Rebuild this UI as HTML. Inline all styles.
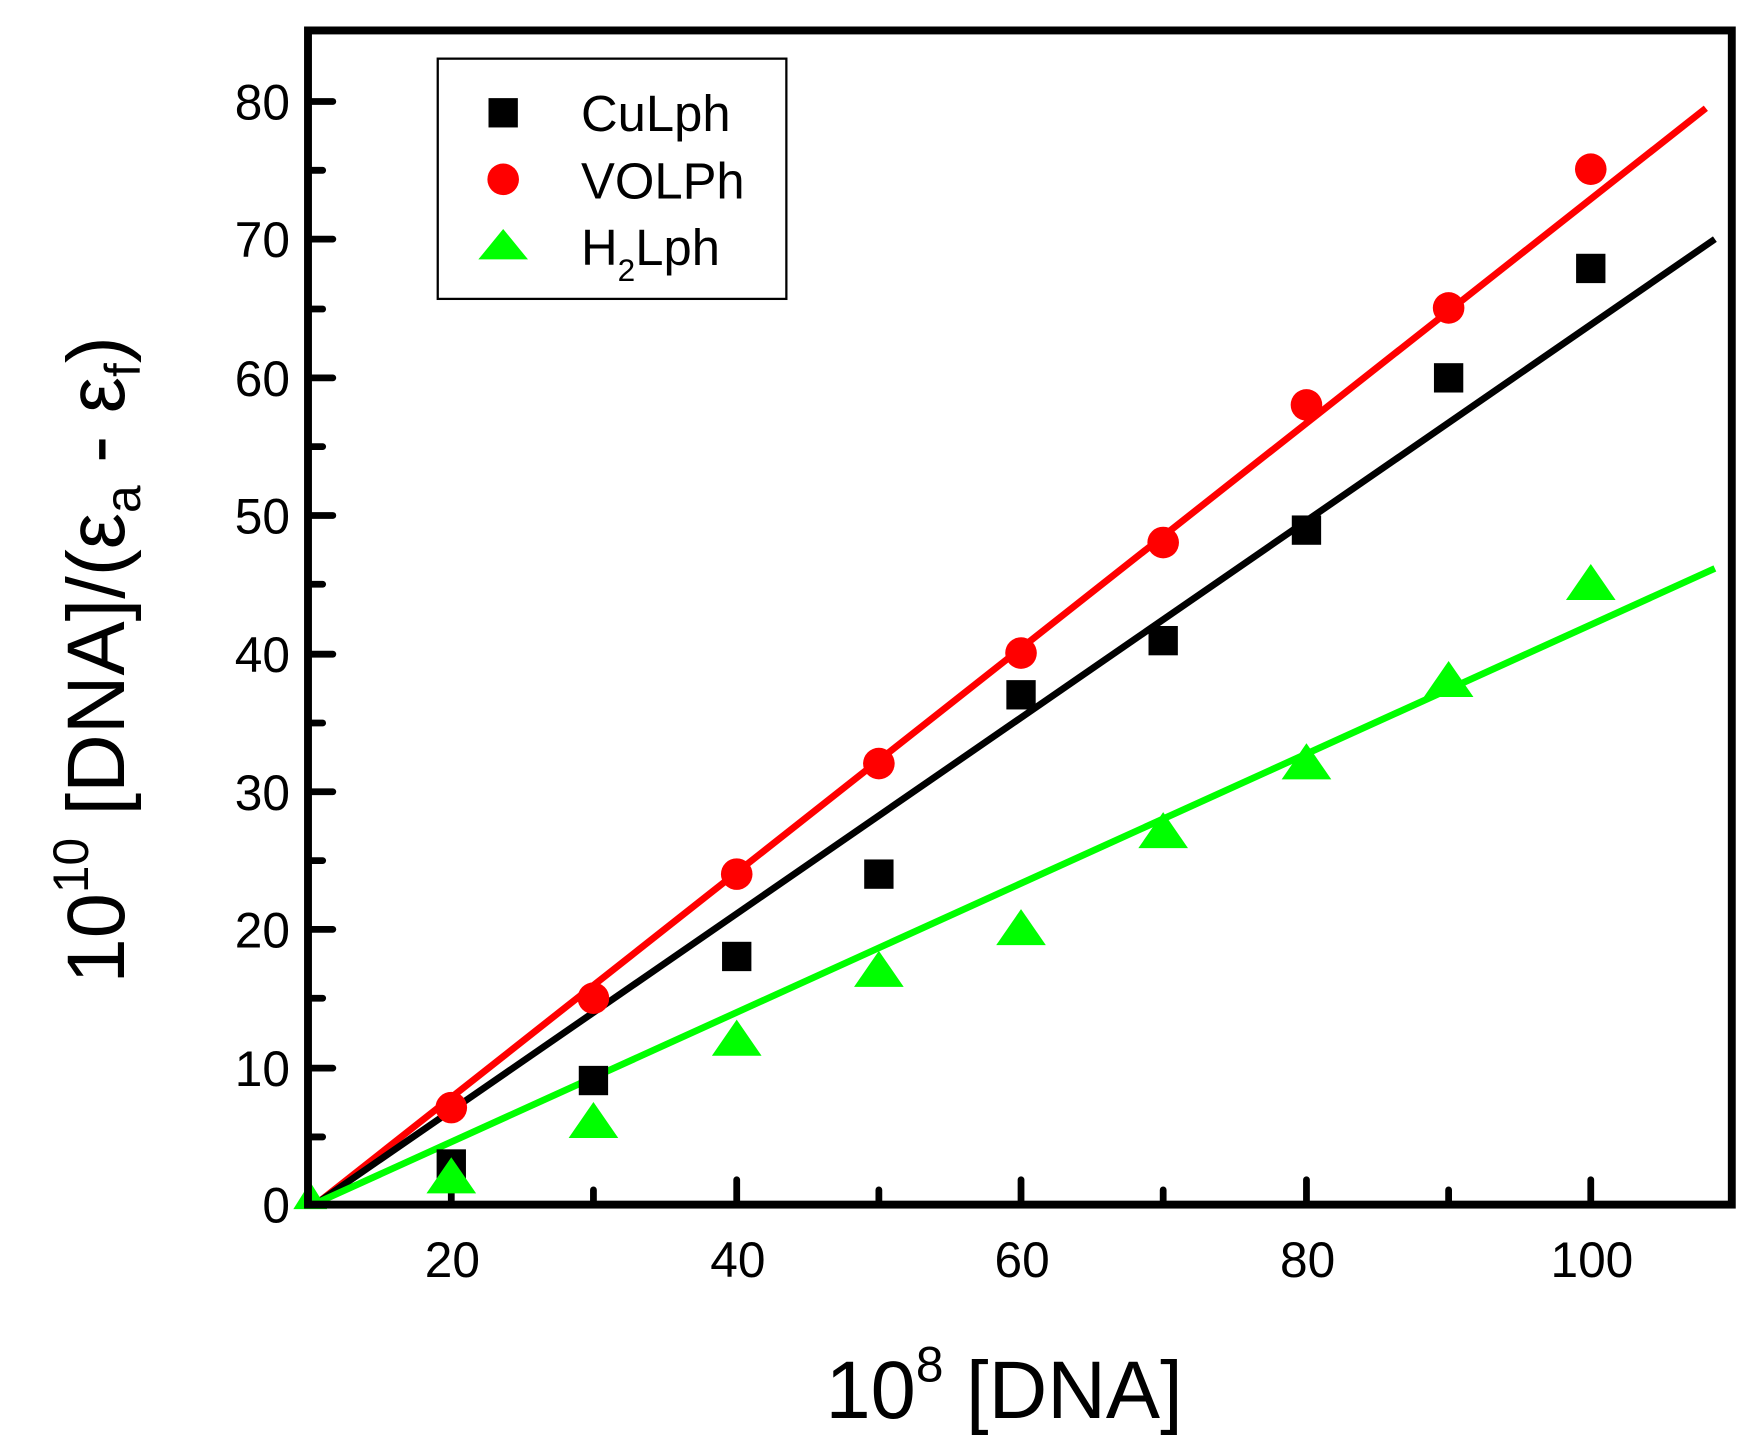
<!DOCTYPE html>
<html><head><meta charset="utf-8"><style>html,body{margin:0;padding:0;background:#fff;}svg{display:block}</style></head>
<body>
<svg width="1760" height="1455" viewBox="0 0 1560 1290" preserveAspectRatio="none" xmlns="http://www.w3.org/2000/svg" font-family="Liberation Sans, Arial, sans-serif">
<g stroke="#000" stroke-width="6" stroke-linecap="round">
<line x1="273" y1="90" x2="295" y2="90"/><line x1="273" y1="151" x2="286" y2="151"/>
<line x1="273" y1="212" x2="295" y2="212"/><line x1="273" y1="274" x2="286" y2="274"/>
<line x1="273" y1="335" x2="295" y2="335"/><line x1="273" y1="396" x2="286" y2="396"/>
<line x1="273" y1="457" x2="295" y2="457"/><line x1="273" y1="518" x2="286" y2="518"/>
<line x1="273" y1="580" x2="295" y2="580"/><line x1="273" y1="641" x2="286" y2="641"/>
<line x1="273" y1="702" x2="295" y2="702"/><line x1="273" y1="763" x2="286" y2="763"/>
<line x1="273" y1="824" x2="295" y2="824"/><line x1="273" y1="885" x2="286" y2="885"/>
<line x1="273" y1="947" x2="295" y2="947"/><line x1="273" y1="1008" x2="286" y2="1008"/>
<line x1="400" y1="1068" x2="400" y2="1046"/><line x1="526" y1="1068" x2="526" y2="1055"/>
<line x1="653" y1="1068" x2="653" y2="1046"/><line x1="779" y1="1068" x2="779" y2="1055"/>
<line x1="905" y1="1068" x2="905" y2="1046"/><line x1="1031" y1="1068" x2="1031" y2="1055"/>
<line x1="1158" y1="1068" x2="1158" y2="1046"/><line x1="1284" y1="1068" x2="1284" y2="1055"/>
<line x1="1410" y1="1068" x2="1410" y2="1046"/>
</g>
<line x1="282" y1="1066" x2="1512" y2="96" stroke="#f00" stroke-width="6"/>
<line x1="282" y1="1066" x2="1520" y2="212" stroke="#000" stroke-width="6"/>
<line x1="282" y1="1066" x2="1520" y2="504" stroke="#0f0" stroke-width="6"/>
<g fill="#000">
<rect x="387" y="1019" width="26" height="26"/><rect x="513" y="945" width="26" height="26"/>
<rect x="640" y="835" width="26" height="26"/><rect x="766" y="762" width="26" height="26"/>
<rect x="892" y="603" width="26" height="26"/><rect x="1018" y="555" width="26" height="26"/>
<rect x="1145" y="457" width="26" height="26"/><rect x="1271" y="322" width="26" height="26"/>
<rect x="1397" y="225" width="26" height="26"/>
</g>
<g fill="#f00">
<circle cx="400" cy="982" r="14"/><circle cx="526" cy="885" r="14"/><circle cx="653" cy="775" r="14"/>
<circle cx="779" cy="677" r="14"/><circle cx="905" cy="579" r="14"/><circle cx="1031" cy="481" r="14"/>
<circle cx="1158" cy="359" r="14"/><circle cx="1284" cy="273" r="14"/><circle cx="1410" cy="150" r="14"/>
</g>
<g fill="#0f0">
<polygon points="275,1048 290,1072 260,1072"/>
<polygon points="400,1026 422,1058 378,1058"/><polygon points="526,977 548,1009 504,1009"/>
<polygon points="653,904 675,936 631,936"/><polygon points="779,843 801,875 757,875"/>
<polygon points="905,806 927,838 883,838"/><polygon points="1031,720 1053,752 1009,752"/>
<polygon points="1158,659 1180,691 1136,691"/><polygon points="1284,586 1306,618 1262,618"/>
<polygon points="1410,500 1432,532 1388,532"/>
</g>
<rect x="273" y="27" width="1262" height="1041" fill="none" stroke="#000" stroke-width="7"/>
<rect x="388" y="52" width="309" height="213" fill="#fff" stroke="#000" stroke-width="2"/>
<rect x="433" y="87" width="26" height="26" fill="#000"/>
<circle cx="446" cy="159" r="14" fill="#f00"/>
<polygon points="446,203 468,230 424,230" fill="#0f0"/>
<g font-size="45" fill="#000">
<text x="515" y="116">CuLph</text>
<text x="515" y="176">VOLPh</text>
<text x="515" y="235">H<tspan font-size="28" dy="14">2</tspan><tspan dy="-14">Lph</tspan></text>
</g>
<g font-size="44" fill="#000" text-anchor="end">
<text x="257" y="1084">0</text><text x="257" y="963">10</text><text x="257" y="840">20</text>
<text x="257" y="718">30</text><text x="257" y="596">40</text><text x="257" y="473">50</text>
<text x="257" y="351">60</text><text x="257" y="228">70</text><text x="257" y="106">80</text>
</g>
<g font-size="44" fill="#000" text-anchor="middle">
<text x="401" y="1132">20</text><text x="654" y="1132">40</text><text x="906" y="1132">60</text>
<text x="1159" y="1132">80</text><text x="1411" y="1132">100</text>
</g>
<text x="890" y="1257" font-size="72" text-anchor="middle" fill="#000">10<tspan font-size="44" dy="-32">8</tspan><tspan dy="32"> [DNA]</tspan></text>
<text transform="translate(110,585) rotate(-90)" font-size="72" text-anchor="middle" fill="#000">10<tspan font-size="44" dy="-32">10</tspan><tspan dy="32"> [DNA]/(ε</tspan><tspan font-size="44" dy="14">a</tspan><tspan dy="-14"> - ε</tspan><tspan font-size="44" dy="14">f</tspan><tspan dy="-14">)</tspan></text>
</svg>
</body></html>
